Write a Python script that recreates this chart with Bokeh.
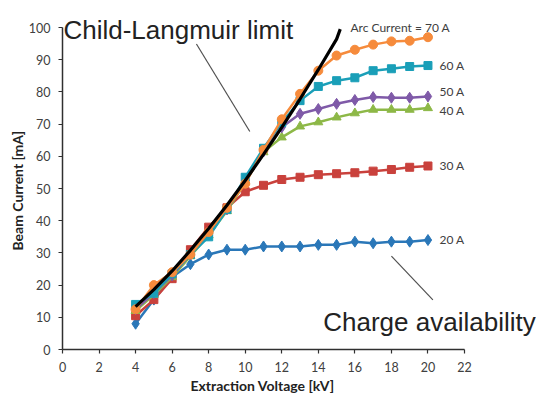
from bokeh.plotting import figure
from bokeh.embed import file_html
from bokeh.resources import INLINE
from bokeh.models import SingleIntervalTicker, ColumnDataSource, Title
from bokeh.core.properties import value

# ---- data ----
voltage_kv = [4, 5, 6, 7, 8, 9, 10, 11, 12, 13, 14, 15, 16, 17, 18, 19, 20]
arc_20a = [8, 15.5, 22.5, 26.5, 29.5, 31, 31, 32, 32, 32, 32.5, 32.5, 33.5, 33, 33.5, 33.5, 34]
arc_30a = [10.5, 15.5, 22, 31, 38, 44, 49, 51, 52.8, 53.5, 54.3, 54.6, 54.9, 55.4, 55.9, 56.6, 57]
arc_40a = [12, 17, 22.5, 29, 35.5, 43, 52, 61.3, 65.9, 69.3, 70.6, 72.1, 73.4, 74.5, 74.5, 74.5, 75]
arc_50a = [12.5, 17.5, 23, 29.5, 36, 43.5, 52.5, 61.5, 69, 73.2, 74.7, 76.3, 77.5, 78.4, 78.2, 78.2, 78.6]
arc_60a = [14, 17.5, 23.5, 29.5, 35, 43.5, 53.5, 62.5, 70.5, 77.3, 81.7, 83.5, 84.4, 86.6, 87.2, 87.9, 88.2]
arc_70a = [12.5, 20, 24, 29.5, 36.5, 44, 51.5, 62, 71.5, 79.4, 86.6, 91.3, 93.1, 94.7, 95.7, 95.9, 97]

cl_voltage = [4, 5, 6, 7, 8, 9, 10, 11, 12, 13, 14, 15, 15.2]
cl_current = [13.3, 18.6, 24.4, 30.8, 37.6, 44.8, 52.5, 60.6, 69.0, 77.8, 86.9, 96.4, 99.5]

series_labels = ["Arc Current = 70 A", "60 A", "50 A", "40 A", "30 A", "20 A"]
label_x = [15.76, 20.63, 20.63, 20.63, 20.63, 20.63]
label_y = [100.1, 88.2, 80.2, 74.2, 57.1, 34.3]

notes = ["Child-Langmuir limit", "Charge availability"]
note_x = [0.05, 14.27]
note_y = [99.1, 8.5]

pointer_x0 = [7.33, 18.0]
pointer_y0 = [94.9, 29.0]
pointer_x1 = [10.25, 20.27]
pointer_y1 = [67.7, 15.4]

x_title = "Extraction Voltage [kV]"
y_title = "Beam Current [mA]"
x_ticks_interval = 2
y_ticks_interval = 10
x_axis_max = 22
y_axis_max = 100

# ---- figure ----
p = figure(width=536, height=394, x_range=(0, 25.94), y_range=(0, 108.4),
           output_backend="svg", toolbar_location=None,
           min_border_left=62, min_border_right=0, min_border_top=0, min_border_bottom=45)
p.title.visible = False
p.outline_line_color = None
p.xgrid.visible = False
p.ygrid.visible = False
p.background_fill_color = "white"

series = [
    (arc_20a, "#2a77b8", "diamond", 11),
    (arc_30a, "#c9413c", "square", 8),
    (arc_40a, "#8db847", "triangle", 9),
    (arc_50a, "#7f5aa8", "diamond", 11),
    (arc_60a, "#1a9fb8", "square", 8),
    (arc_70a, "#f68b3c", "circle", 9),
]
for ys, col, mk, sz in series:
    src = ColumnDataSource(dict(x=voltage_kv, y=ys))
    p.line("x", "y", source=src, line_color=col, line_width=2.5)
    p.scatter("x", "y", source=src, marker=mk, size=sz, fill_color=col, line_color=col)

p.line(cl_voltage, cl_current, line_color="black", line_width=3.2)

p.segment(x0=pointer_x0, y0=pointer_y0, x1=pointer_x1, y1=pointer_y1,
          line_color="#505050", line_width=1.2)

p.text(x=label_x, y=label_y, text=series_labels, text_font=value("Lato"),
       text_font_size="12px", text_color="#404040", text_baseline="middle", text_align="left")

p.text(x=note_x, y=note_y, text=notes, text_font=value("Liberation Sans"),
       text_font_size="26px", text_color="#222222", text_baseline="alphabetic", text_align="left")

# axes
for ax in (p.xaxis[0], p.yaxis[0]):
    ax.axis_line_color = "#303030"
    ax.axis_line_width = 1.5
    ax.major_tick_line_color = "#303030"
    ax.major_tick_line_width = 1.2
    ax.major_tick_out = 4
    ax.major_tick_in = 0
    ax.minor_tick_line_color = None
    ax.major_label_text_font = "Lato"
    ax.major_label_text_font_size = "12.5px"
    ax.major_label_text_color = "#404040"

p.xaxis[0].ticker = SingleIntervalTicker(interval=x_ticks_interval)
p.yaxis[0].ticker = SingleIntervalTicker(interval=y_ticks_interval)
p.xaxis[0].bounds = (0, x_axis_max)
p.yaxis[0].bounds = (0, y_axis_max)
p.xaxis[0].major_label_standoff = 8
p.yaxis[0].major_label_standoff = 8

# axis titles as side titles so they can be centred on the drawn axis extent
p.add_layout(Title(text=x_title, align="left", offset=128, standoff=0,
                   text_font="Lato", text_font_size="14px", text_font_style="bold",
                   text_color="#222222"), "below")
p.add_layout(Title(text=y_title, align="left", offset=99, standoff=0,
                   text_font="Lato", text_font_size="14px", text_font_style="bold",
                   text_color="#222222"), "left")

open("out.html", "w").write(file_html(p, INLINE))
